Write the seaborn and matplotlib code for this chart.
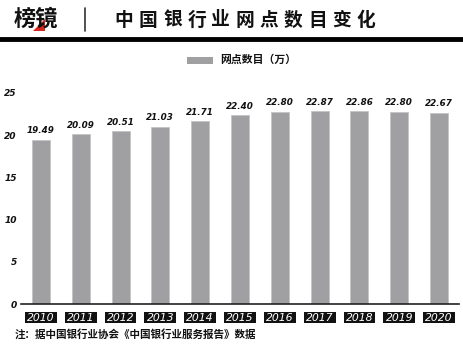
import numpy as np
import pandas as pd
import seaborn as sns
import matplotlib.pyplot as plt
from matplotlib.patches import Rectangle, Polygon

# datos del grafico
years = ['2010', '2011', '2012', '2013', '2014', '2015', '2016', '2017', '2018', '2019', '2020']
branches = [19.49, 20.09, 20.51, 21.03, 21.71, 22.40, 22.80, 22.87, 22.86, 22.80, 22.67]
y_ticks = [0, 5, 10, 15, 20, 25]

title = '中国银行业网点数目变化'
legend_label = '网点数目（万）'
note = '注：据中国银行业协会《中国银行业服务报告》数据'

df = pd.DataFrame({'year': years, 'value': branches})

sns.set_theme(style='white')
plt.rcParams['font.family'] = ['Noto Sans CJK SC', 'DejaVu Sans']

W, H = 463, 356
fig = plt.figure(figsize=(W / 100, H / 100), dpi=100)
ax = fig.add_axes([21 / W, (H - 304) / H, (459 - 21) / W, (304 - 93) / H])

bar_color = '#a0a0a2'
sns.barplot(data=df, x='year', y='value', color=bar_color, width=0.45,
            saturation=1, edgecolor='#c4c4c6', linewidth=0.6, ax=ax)

ax.set_ylim(0, 25)
ax.set_xlim(-0.5, len(years) - 0.5)
ax.set_yticks(y_ticks)
ax.set_yticklabels([str(t) for t in y_ticks], fontsize=6.5, fontweight='bold',
                   style='italic', family='DejaVu Sans', color='#111111')
ax.tick_params(axis='y', length=0, pad=3)
ax.set_xticks([])
ax.set_xlabel('')
ax.set_ylabel('')
for s in ['top', 'right', 'left']:
    ax.spines[s].set_visible(False)
ax.spines['bottom'].set_color('#222222')
ax.spines['bottom'].set_linewidth(1.2)

# etiquetas de valor
for i, v in enumerate(branches):
    ax.annotate(f'{v:.2f}', (i, v), xytext=(0, 3), textcoords='offset points',
                ha='center', va='bottom', fontsize=6.3, fontweight='bold',
                style='italic', family='DejaVu Sans', color='#111111')

# anos en cajas negras
for i, yr in enumerate(years):
    ax.add_patch(Rectangle((i - 0.4, -2.3), 0.8, 1.35, fc='#111111', ec='none',
                           clip_on=False))
    ax.text(i, -1.62, yr, ha='center', va='center', fontsize=7.8,
            style='italic', family='DejaVu Sans', color='white', clip_on=False)

# cabecera
fig.text(14 / W, 1 - 19 / H, '榜镜', fontsize=16, fontweight='heavy',
         color='#111111', va='center', ha='left')
fig.patches.append(Polygon([[33 / W, 1 - 31 / H], [45 / W, 1 - 19 / H], [45 / W, 1 - 31 / H]],
                           closed=True, transform=fig.transFigure, fc='#d7261e', ec='none'))
fig.add_artist(plt.Line2D([85 / W, 85 / W], [1 - 8 / H, 1 - 31 / H],
                          transform=fig.transFigure, color='#333333', lw=1.2))
for i, ch in enumerate(title):
    fig.text((124 + i * 24.2) / W, 1 - 20 / H, ch, fontsize=13.5, fontweight='bold',
             color='#111111', va='center', ha='center')
fig.add_artist(plt.Line2D([0, 1], [1 - 39 / H, 1 - 39 / H],
                          transform=fig.transFigure, color='#000000', lw=3.5))

# leyenda
fig.patches.append(Rectangle((187 / W, 1 - 64 / H), 26 / W, 7 / H,
                             transform=fig.transFigure, fc=bar_color, ec='none'))
fig.text(220 / W, 1 - 60 / H, legend_label, fontsize=7.8, fontweight='bold',
         style='italic', color='#111111', va='center', ha='left')

# nota
fig.text(15 / W, 1 - 334 / H, note, fontsize=7.6, fontweight='bold',
         color='#111111', va='center', ha='left')

fig.savefig('out.png', dpi=100)
